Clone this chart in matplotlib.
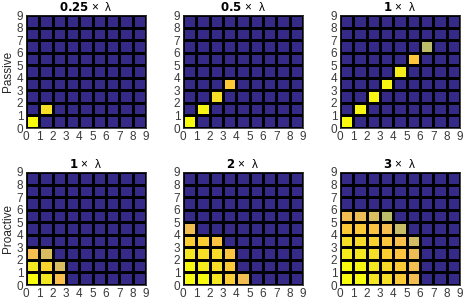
import numpy as np
import matplotlib.pyplot as plt
from matplotlib.colors import LinearSegmentedColormap

# parula-like colormap (only the upper end really matters here)
parula_pts = [
    (0.00, (0.208, 0.166, 0.529)),
    (0.20, (0.078, 0.450, 0.860)),
    (0.40, (0.060, 0.660, 0.760)),
    (0.60, (0.380, 0.750, 0.480)),
    (0.75, (0.730, 0.740, 0.420)),
    (0.82, (0.860, 0.740, 0.380)),
    (0.88, (0.985, 0.745, 0.300)),
    (0.93, (0.990, 0.800, 0.200)),
    (0.97, (0.960, 0.895, 0.140)),
    (1.00, (0.976, 0.983, 0.054)),
]
parula = LinearSegmentedColormap.from_list('parula', parula_pts)

titles = ['0.25', '0.5', '1', '1', '2', '3']
row_labels = ['Passive', 'Proactive']

# nonzero cells: {(row, col): value}, rows = y index, cols = x index
passive_025 = {(0, 0): 1.0, (1, 1): 0.96}
passive_05 = {(0, 0): 1.0, (1, 1): 0.99, (2, 2): 0.96, (3, 3): 0.92}
passive_1 = {(0, 0): 1.0, (1, 1): 0.99, (2, 2): 0.99, (3, 3): 0.99,
             (4, 4): 0.98, (5, 5): 0.91, (6, 6): 0.75}
proactive_1 = [
    [1.00, 0.97, 0.88],
    [0.97, 0.94, 0.82],
    [0.87, 0.82],
]
proactive_2 = [
    [1.00, 1.00, 0.97, 0.93, 0.86],
    [1.00, 0.98, 0.96, 0.92],
    [0.97, 0.96, 0.95, 0.90],
    [0.93, 0.93, 0.90],
    [0.86],
]
proactive_3 = [
    [1.00, 1.00, 0.97, 0.96, 0.92, 0.86],
    [1.00, 0.99, 0.97, 0.95, 0.92, 0.86],
    [0.98, 0.97, 0.96, 0.93, 0.90, 0.85],
    [0.96, 0.95, 0.94, 0.91, 0.88, 0.80],
    [0.92, 0.92, 0.90, 0.87, 0.78],
    [0.86, 0.85, 0.82, 0.75],
]


def from_dict(d):
    m = np.zeros((9, 9))
    for (r, c), v in d.items():
        m[r, c] = v
    return m


def from_rows(rows):
    m = np.zeros((9, 9))
    for r, vals in enumerate(rows):
        m[r, :len(vals)] = vals
    return m


grids = [from_dict(passive_025), from_dict(passive_05), from_dict(passive_1),
         from_rows(proactive_1), from_rows(proactive_2), from_rows(proactive_3)]

plt.rcParams['font.family'] = ['Liberation Sans', 'DejaVu Sans']

fig = plt.figure(figsize=(4.63, 2.99), dpi=100)
W, H = 463, 299
lefts = [26, 183, 340]
tops = [15, 172]
aw, ah = 120, 113

edges = np.arange(10)
for i, g in enumerate(grids):
    r, c = divmod(i, 3)
    ax = fig.add_axes([lefts[c] / W, (H - tops[r] - ah) / H, aw / W, ah / H])
    ax.pcolormesh(edges, edges, g, cmap=parula, vmin=0, vmax=1,
                  edgecolors='k', linewidth=0.9)
    ax.set_xlim(0, 9)
    ax.set_ylim(0, 9)
    ax.set_xticks(range(10))
    ax.set_yticks(range(10))
    ax.tick_params(length=0, labelsize=8.5, colors='#3a3a3a', pad=2)
    for s in ax.spines.values():
        s.set_color('#262626')
        s.set_linewidth(0.6)
    ax.set_title(r'$\mathbf{' + titles[i] + r'}\ $' + '\u00d7  \u03bb',
                 fontsize=8.5, pad=3)
    if c == 0:
        ax.set_ylabel(row_labels[r], fontsize=8.5, labelpad=2, color='#262626')

fig.savefig('out.png', dpi=100)
